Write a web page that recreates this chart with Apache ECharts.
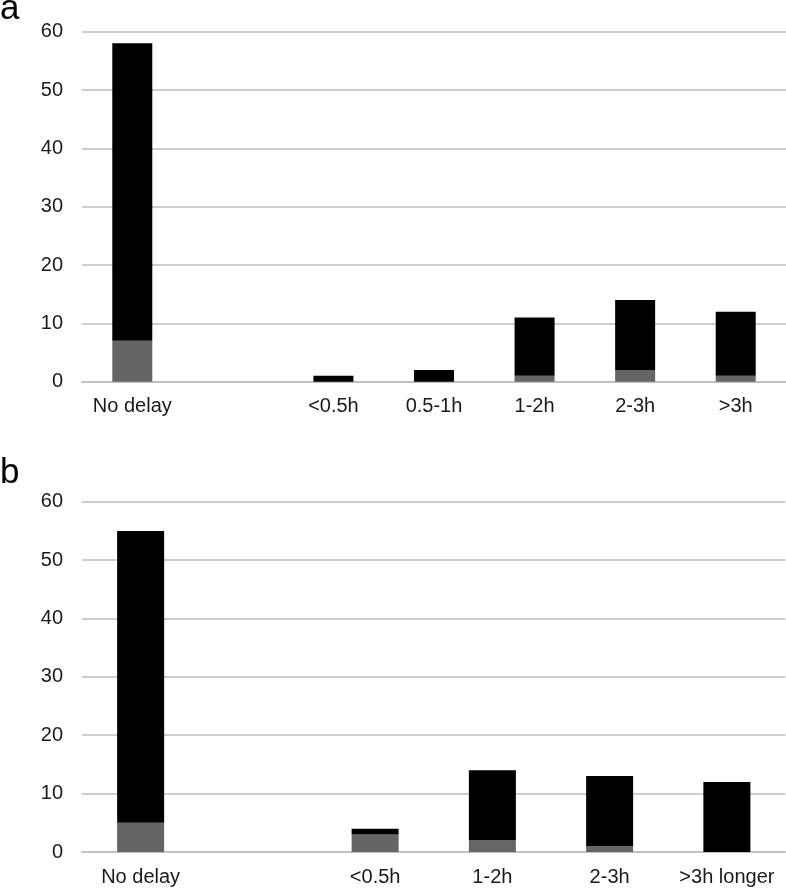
<!DOCTYPE html>
<html>
<head>
<meta charset="utf-8">
<style>
html,body{margin:0;padding:0;background:#fff;}
#chart{width:786px;height:889px;}
</style>
<script src="https://cdn.jsdelivr.net/npm/echarts@6/dist/echarts.min.js"></script>
</head>
<body>
<div id="chart"></div>
<script>
// Panel a
const catsA = ['No delay', '', '<0.5h', '0.5-1h', '1-2h', '2-3h', '>3h'];
const grayA = [7, '-', 0, 0, 1, 2, 1];
const blackA = [51, '-', 1, 2, 10, 12, 11];
// Panel b
const catsB = ['No delay', '', '<0.5h', '1-2h', '2-3h', '>3h longer'];
const grayB = [5, '-', 3, 2, 1, 0];
const blackB = [50, '-', 1, 12, 12, 12];
// y axis
const yMin = 0, yMax = 60, yStep = 10;

const FONT = "'Liberation Sans', Arial, Helvetica, sans-serif";
const chart = echarts.init(document.getElementById('chart'), null, {renderer: 'canvas'});

function yAxis(gi) {
  return {
    type: 'value', gridIndex: gi, min: yMin, max: yMax, interval: yStep,
    axisLine: {show: false}, axisTick: {show: false},
    axisLabel: {fontSize: 20, color: '#1a1a1a', fontFamily: FONT, margin: 19},
    splitLine: {lineStyle: {color: '#bdbdbd', width: 1.6}}
  };
}
function xAxis(gi, cats) {
  return {
    type: 'category', gridIndex: gi, data: cats,
    axisLine: {show: true, lineStyle: {color: '#bdbdbd', width: 1.6}},
    axisTick: {show: false},
    axisLabel: {fontSize: 20, color: '#1a1a1a', fontFamily: FONT, margin: 15, interval: 0}
  };
}

chart.setOption({
  animation: false,
  backgroundColor: '#fff',
  graphic: [
    {type: 'text', left: 0, top: -8, style: {text: 'a', font: '35px ' + FONT, fill: '#000'}},
    {type: 'text', left: 0, top: 456, style: {text: 'b', font: '35px ' + FONT, fill: '#000'}}
  ],
  grid: [
    {left: 82, top: 31.7, width: 704, height: 350},
    {left: 82, top: 501.7, width: 703.5, height: 350.3}
  ],
  xAxis: [xAxis(0, catsA), xAxis(1, catsB)],
  yAxis: [yAxis(0), yAxis(1)],
  series: [
    {type: 'bar', xAxisIndex: 0, yAxisIndex: 0, stack: 'a', data: grayA, barWidth: 40, itemStyle: {color: '#656565'}},
    {type: 'bar', xAxisIndex: 0, yAxisIndex: 0, stack: 'a', data: blackA, barWidth: 40, itemStyle: {color: '#000'}},
    {type: 'bar', xAxisIndex: 1, yAxisIndex: 1, stack: 'b', data: grayB, barWidth: 47, itemStyle: {color: '#656565'}},
    {type: 'bar', xAxisIndex: 1, yAxisIndex: 1, stack: 'b', data: blackB, barWidth: 47, itemStyle: {color: '#000'}}
  ]
});
</script>
</body>
</html>
